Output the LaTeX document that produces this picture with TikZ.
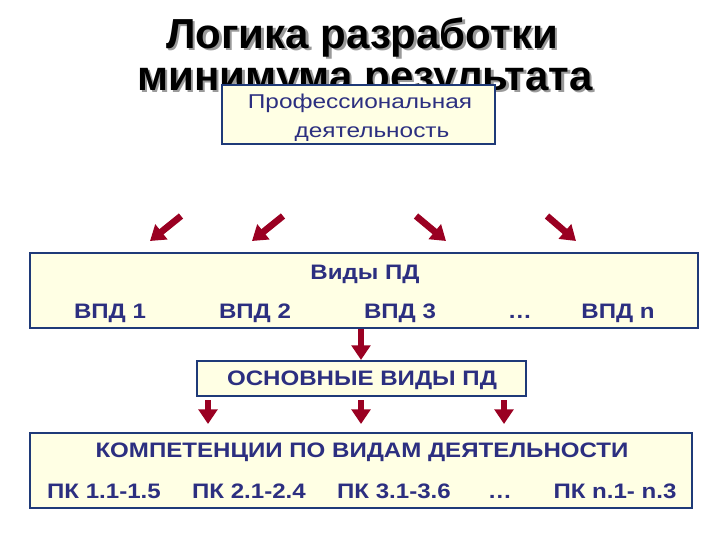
\documentclass[tikz,border=0pt]{standalone}
\usepackage{fontspec}
\setmainfont{Liberation Sans}
\usetikzlibrary{arrows.meta}
\definecolor{navy}{HTML}{2C2F80}
\definecolor{bord}{HTML}{1F3A78}
\definecolor{boxfill}{HTML}{FFFFE4}
\definecolor{arr}{HTML}{9A0022}
\definecolor{shadowc}{HTML}{9A9A9A}
\newcommand{\wlbl}[1]{\scalebox{1.15}[1]{#1}}
\newcommand{\wtop}[1]{\scalebox{1.22}[1]{#1}}
\tikzset{
  panel/.style={draw=bord, line width=1.6pt, fill=boxfill, inner sep=0pt},
  lbl/.style={text=navy, font=\bfseries\fontsize{15.7}{18}\selectfont, inner sep=0pt, anchor=base},
  toplbl/.style={text=navy, font=\fontsize{15}{18}\selectfont, inner sep=0pt, anchor=base},
  blockarrow/.style={draw=arr, line width=5pt, -{Triangle[length=11pt,width=14pt]}},
  titletext/.style={font=\bfseries\fontsize{31.5}{36}\selectfont, inner sep=0pt, anchor=base}
}
\begin{document}
\begin{tikzpicture}[x=0.75pt,y=-0.75pt]
\useasboundingbox[fill=white] (0,0) rectangle (720,540);
% title with shadow
\node[titletext, text=shadowc] at (364.5,50.5) {Логика разработки};
\node[titletext, text=shadowc] at (367.5,92.5) {минимума результата};
\node[titletext] (t1) at (362,48) {Логика разработки};
\node[titletext] (t2) at (365,90) {минимума результата};
% top box
\node[panel, minimum width=273*0.75pt, minimum height=59*0.75pt] (pd) at (358.5,114.5) {};
\node[toplbl] (pd1) at (360,108) {\wtop{Профессиональная}};
\node[toplbl] (pd2) at (372,137) {\wtop{деятельность}};
% diagonal arrows
\coordinate (d1s) at (181,216); \coordinate (d1e) at (150,241);
\coordinate (d2s) at (283,216); \coordinate (d2e) at (252,241);
\coordinate (d3s) at (416,216); \coordinate (d3e) at (446,241);
\coordinate (d4s) at (547,216); \coordinate (d4e) at (576,241);
\draw[blockarrow] (d1s) -- (d1e);
\draw[blockarrow] (d2s) -- (d2e);
\draw[blockarrow] (d3s) -- (d3e);
\draw[blockarrow] (d4s) -- (d4e);
% box 2
\node[panel, minimum width=668*0.75pt, minimum height=75*0.75pt] (vpd) at (364,290.5) {};
\node[lbl] (vh) at (365,279) {\wlbl{Виды ПД}};
\node[lbl] (v1) at (110,318) {\wlbl{ВПД 1}};
\node[lbl] (v2) at (255,318) {\wlbl{ВПД 2}};
\node[lbl] (v3) at (400,318) {\wlbl{ВПД 3}};
\node[lbl] (v4) at (520,318) {\wlbl{\dots}};
\node[lbl] (v5) at (618,318) {\wlbl{ВПД n}};
% box 3
\node[panel, minimum width=329*0.75pt, minimum height=35*0.75pt] (osn) at (361.5,378.5) {};
\node[lbl] (osnt) at (362,385) {\wlbl{ОСНОВНЫЕ ВИДЫ ПД}};
\draw[blockarrow] (vpd.south -| 361,0) -- (osn.north -| 361,0);
% arrows to box 4
\coordinate (k1s) at (208,400); \coordinate (k1e) at (208,424);
\coordinate (k2s) at (361,400); \coordinate (k2e) at (361,424);
\coordinate (k3s) at (504,400); \coordinate (k3e) at (504,424);
\draw[blockarrow] (k1s) -- (k1e);
\draw[blockarrow] (k2s) -- (k2e);
\draw[blockarrow] (k3s) -- (k3e);
% box 4
\node[panel, minimum width=662*0.75pt, minimum height=75*0.75pt] (komp) at (361,470.5) {};
\node[lbl] (kh) at (362,457) {\wlbl{КОМПЕТЕНЦИИ ПО ВИДАМ ДЕЯТЕЛЬНОСТИ}};
\node[lbl] (p1) at (104,498) {\wlbl{ПК 1.1-1.5}};
\node[lbl] (p2) at (249,498) {\wlbl{ПК 2.1-2.4}};
\node[lbl] (p3) at (394,498) {\wlbl{ПК 3.1-3.6}};
\node[lbl] (p4) at (500,498) {\wlbl{\dots}};
\node[lbl] (p5) at (615,498) {\wlbl{ПК n.1- n.3}};
\end{tikzpicture}
\end{document}
